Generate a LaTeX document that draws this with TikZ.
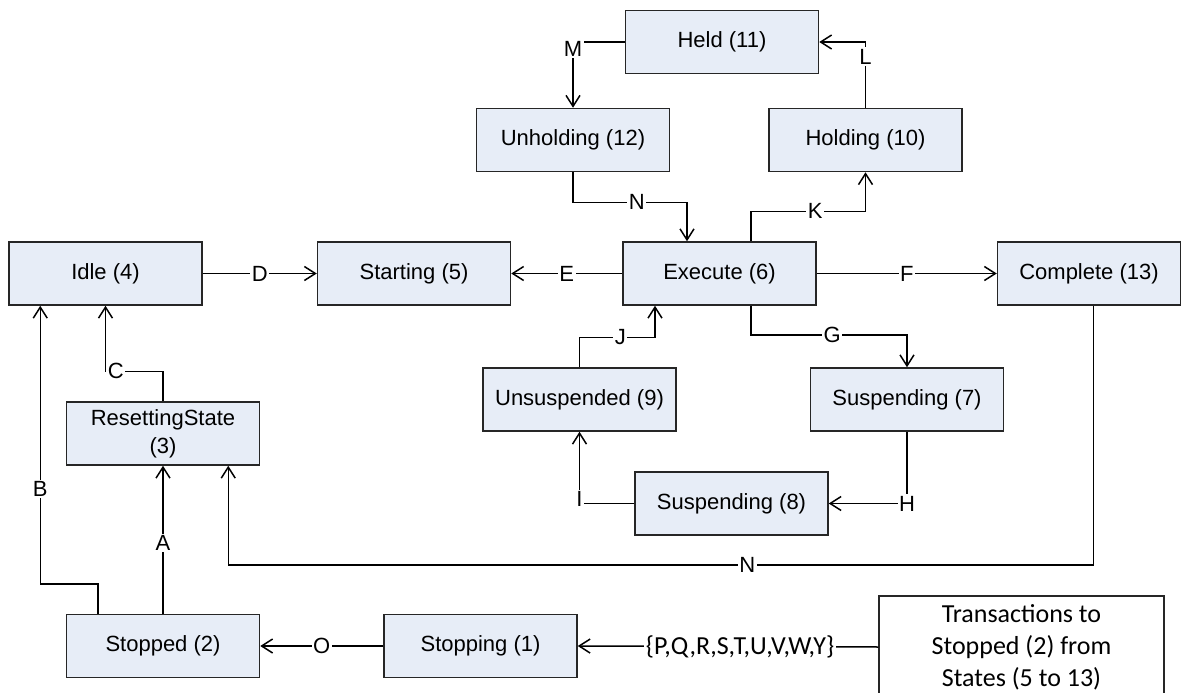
\documentclass[tikz,border=0pt]{standalone}
\usepackage{fontspec}
\setmainfont{Liberation Sans}
\newfontfamily\calibri{Carlito}
\usepackage{tikz}
\usetikzlibrary{positioning, arrows.meta, calc}

\definecolor{boxfill}{RGB}{231,237,247}
\definecolor{boxline}{RGB}{38,38,38}

\begin{document}
\begin{tikzpicture}[x=1pt, y=-1pt]
	% Define styles
	\tikzset{
		stbox/.style={rectangle, draw=boxline, line width=1.5pt, fill=boxfill, minimum width=193pt, minimum height=63pt, inner sep=0pt, align=center, font=\fontsize{22}{28}\selectfont},
		notebox/.style={rectangle, draw=boxline, line width=1.5pt, fill=white, minimum width=285pt, minimum height=102pt, inner sep=0pt, align=center, font=\calibri\fontsize{26}{32}\selectfont},
		line/.style={draw, line width=1.5pt, -{Straight Barb[length=11pt, width=14pt, line width=1.5pt]}},
		lbl/.style={fill=white, inner sep=1.5pt, font=\fontsize{22}{26}\selectfont},
		clbl/.style={fill=white, inner sep=1.5pt, font=\calibri\fontsize{26}{30}\selectfont}
	}
	\useasboundingbox (0,0) rectangle (1184,693);
	\clip (0,0) rectangle (1184,693);
	
	% Nodes
	\node[stbox] (idle) at (105.5,273.5) {Idle (4)};
	\node[stbox, right=114pt of idle] (starting) {Starting (5)};
	\node[stbox, right=111pt of starting] (execute) {Execute (6)};
	\node[stbox, right=180pt of execute, minimum width=183pt] (complete) {Complete (13)};
	
	\node[stbox] (held) at (722,42) {Held (11)};
	\node[stbox] (unholding) at (573,140) {Unholding (12)};
	\node[stbox, right=98pt of unholding] (holding) {Holding (10)};
	
	\node[stbox] (unsuspended) at (579.5,399.5) {Unsuspended (9)};
	\node[stbox, right=133pt of unsuspended] (suspending7) {Suspending (7)};
	\node[stbox] (suspending8) at (731.5,503.5) {Suspending (8)};
	
	\node[stbox] (resetting) at (163,433.5) {ResettingState\\(3)};
	\node[stbox, below=148pt of resetting] (stopped) {Stopped (2)};
	\node[stbox, right=123pt of stopped] (stopping) {Stopping (1)};
	\node[notebox] (trans) at (1021.5,647) {Transactions to\\Stopped (2) from\\States (5 to 13)};
	
	% Arrows
	\draw[line] (stopped.north) -- node[lbl, pos=0.48] {A} (resetting.south);
	\draw[line] ($(stopped.north west)+(32,0)$) -- ++(0,-30) -| node[lbl, pos=0.67] {B} ($(idle.south west)+(32,0)$);
	\draw[line] (resetting.north) -- ++(0,-30) -| node[lbl, pos=0.41] {C} (idle.south);
	\draw[line] (idle.east) -- node[lbl] {D} (starting.west);
	\draw[line] (execute.west) -- node[lbl] {E} (starting.east);
	\draw[line] (execute.east) -- node[lbl] {F} (complete.west);
	\draw[line] ($(execute.south)+(31.5,0)$) -- ++(0,29) -| node[lbl, pos=0.26] {G} (suspending7.north);
	\draw[line] (suspending7.south) |- node[lbl, pos=0.5] {H} (suspending8.east);
	\draw[line] (suspending8.west) -| node[lbl, pos=0.53] {I} (unsuspended.south);
	\draw[line] (unsuspended.north) -- ++(0,-30) -| node[lbl, pos=0.27] {J} ($(execute.south)+(-64.5,0)$);
	\draw[line] ($(execute.north)+(31.5,0)$) -- ++(0,-30) -| node[lbl, pos=0.28] {K} (holding.south);
	\draw[line] (holding.north) |- node[lbl, pos=0.39] {L} (held.east);
	\draw[line] (held.west) -| node[lbl, pos=0.55] {M} (unholding.north);
	\draw[line] (unholding.south) -- ++(0,30) -| node[lbl, pos=0.28] {N} ($(execute.north)+(-32.5,0)$);
	\draw[line] ($(complete.south)+(4.5,0)$) -- ++(0,259) -| node[lbl, pos=0.2] {N} ($(resetting.south east)+(-32,0)$);
	\draw[line] (stopping.west) -- node[lbl] {O} (stopped.east);
	\draw[line] (trans.west) -- node[clbl, pos=0.46] {\{P,Q,R,S,T,U,V,W,Y\}} (stopping.east);
	
\end{tikzpicture}
\end{document}
